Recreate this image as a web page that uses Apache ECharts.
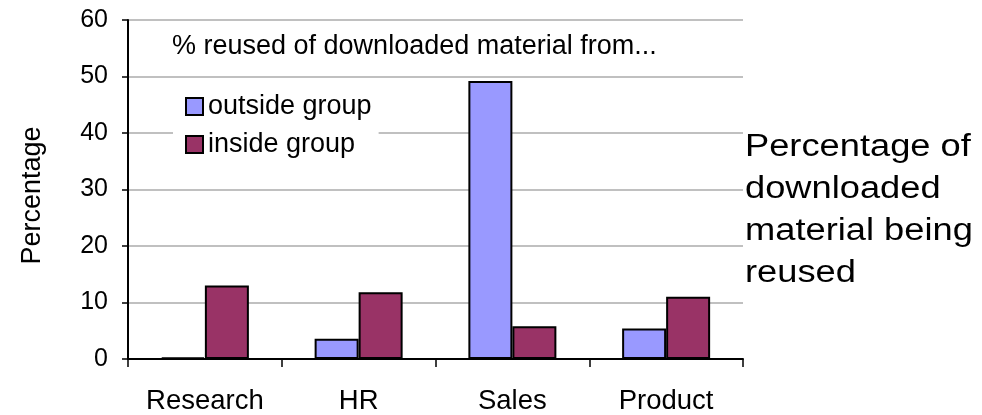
<!DOCTYPE html>
<html>
<head>
<meta charset="utf-8">
<script src="https://cdn.jsdelivr.net/npm/echarts@6/dist/echarts.min.js"></script>
<style>
  html, body { margin: 0; padding: 0; background: #ffffff; }
  #chart { width: 982px; height: 415px; }
</style>
</head>
<body>
<div id="chart"></div>
<script>
// Share of downloaded material that gets reused, per department
const categories = ['Research', 'HR', 'Sales', 'Product'];
const outsideGroup = [0.3, 3.6, 49.2, 5.4];
const insideGroup = [13.0, 11.8, 5.8, 11.0];
const yTicks = [0, 10, 20, 30, 40, 50, 60];

const FONT = '"Liberation Sans", Arial, sans-serif';

const chart = echarts.init(document.getElementById('chart'));

chart.setOption({
  animation: false,
  backgroundColor: '#ffffff',
  textStyle: { fontFamily: FONT, color: '#000000' },
  title: {
    text: '% reused of downloaded material from...',
    left: 172,
    top: 33,
    padding: 0,
    textStyle: { fontFamily: FONT, fontSize: 27, fontWeight: 'normal', color: '#000000', lineHeight: 27 }
  },
  legend: {
    orient: 'vertical',
    left: 173,
    top: 85,
    padding: [8, 7, 8, 12],
    backgroundColor: '#ffffff',
    itemWidth: 17,
    itemHeight: 17,
    itemGap: 11,
    icon: 'rect',
    textStyle: { fontFamily: FONT, fontSize: 27, color: '#000000', lineHeight: 25 },
    data: ['outside group', 'inside group']
  },
  grid: { left: 128, right: 239, top: 20, bottom: 53 },
  xAxis: {
    type: 'category',
    data: categories,
    axisLine: { lineStyle: { color: '#000000', width: 2 } },
    axisTick: { show: true, length: 8, lineStyle: { color: '#000000', width: 1.5 } },
    axisLabel: { margin: 28, fontFamily: FONT, fontSize: 27.5, color: '#000000' }
  },
  yAxis: {
    type: 'value',
    min: yTicks[0],
    max: yTicks[yTicks.length - 1],
    interval: yTicks[1] - yTicks[0],
    name: 'Percentage',
    nameLocation: 'middle',
    nameRotate: 90,
    nameGap: 82,
    nameTextStyle: { fontFamily: FONT, fontSize: 27, color: '#000000', padding: [0, 12, 0, 0] },
    axisLine: { show: true, lineStyle: { color: '#000000', width: 2 } },
    axisTick: { show: true, length: 6, lineStyle: { color: '#000000', width: 1.5 } },
    axisLabel: { margin: 20, fontFamily: FONT, fontSize: 25, color: '#000000' },
    splitLine: { show: true, lineStyle: { color: '#c0c0c0', width: 2 } }
  },
  series: [
    {
      name: 'outside group',
      type: 'bar',
      data: outsideGroup,
      barWidth: 44,
      barGap: '0%',
      itemStyle: { color: '#9999ff', borderColor: '#000000', borderWidth: 2 }
    },
    {
      name: 'inside group',
      type: 'bar',
      data: insideGroup,
      barWidth: 44,
      barGap: '0%',
      itemStyle: { color: '#993366', borderColor: '#000000', borderWidth: 2 }
    }
  ],
  graphic: [
    {
      type: 'text',
      x: 745,
      y: 126,
      scaleX: 1.17,
      style: {
        text: 'Percentage of\ndownloaded\nmaterial being\nreused',
        fontFamily: FONT,
        fontSize: 31,
        lineHeight: 42.2,
        fill: '#000000',
        align: 'left',
        verticalAlign: 'top'
      }
    }
  ]
});
</script>
</body>
</html>
